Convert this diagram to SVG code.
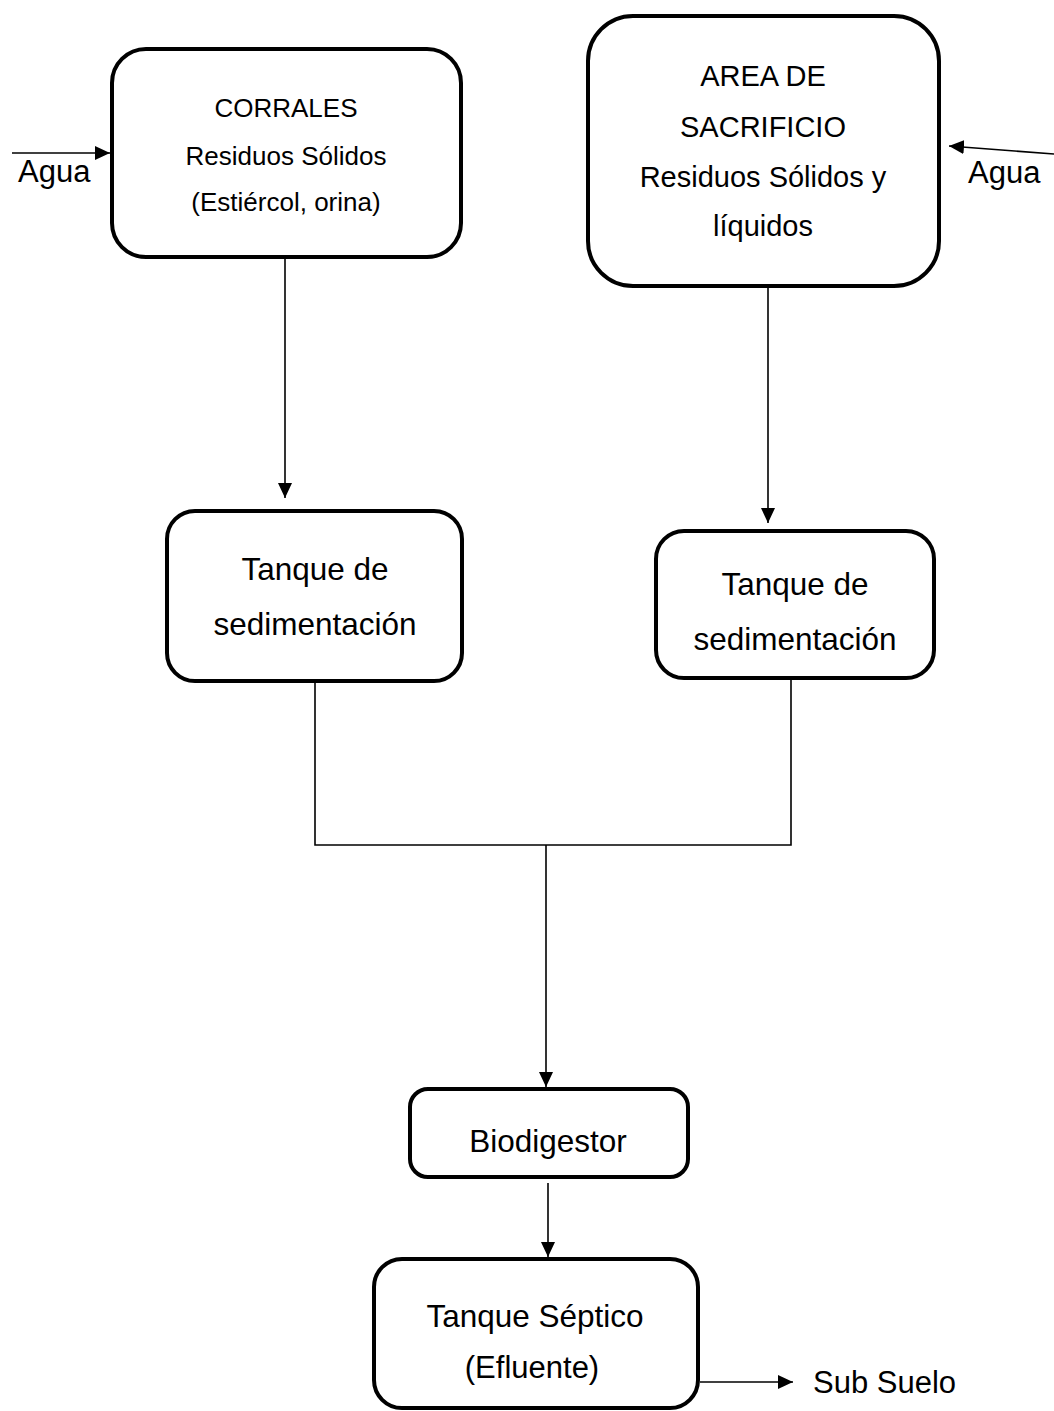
<svg xmlns="http://www.w3.org/2000/svg" width="1054" height="1411" viewBox="0 0 1054 1411">
<style>
.box{fill:#fff;stroke:#000;stroke-width:4}
.t{font-family:"Liberation Sans",Arial,sans-serif;fill:#000;text-anchor:middle}
.lbl{font-family:"Liberation Sans",Arial,sans-serif;fill:#000}
.c{fill:none;stroke:#000;stroke-width:1.6}
</style>
<defs>
<marker id="ah" markerUnits="userSpaceOnUse" markerWidth="16" markerHeight="14" refX="15" refY="7" orient="auto">
<path d="M0,0 L15,7 L0,14 z" fill="#000"/>
</marker>
</defs>
<rect width="1054" height="1411" fill="#fff"/>
<g id="connectors">
<line class="c" x1="12" y1="153" x2="110" y2="153" marker-end="url(#ah)"/>
<line class="c" x1="1054" y1="154" x2="949" y2="146" marker-end="url(#ah)"/>
<line class="c" x1="285" y1="259" x2="285" y2="498" marker-end="url(#ah)"/>
<line class="c" x1="768" y1="288" x2="768" y2="523" marker-end="url(#ah)"/>
<polyline class="c" points="315,683 315,845 791,845 791,680"/>
<line class="c" x1="546" y1="845" x2="546" y2="1087" marker-end="url(#ah)"/>
<line class="c" x1="548" y1="1183" x2="548" y2="1257" marker-end="url(#ah)"/>
<line class="c" x1="700" y1="1382" x2="793" y2="1382" marker-end="url(#ah)"/>
</g>
<g id="agua-left"><text class="lbl" x="18" y="182" font-size="31">Agua</text></g>
<g id="agua-right"><text class="lbl" x="968" y="183" font-size="31">Agua</text></g>
<g id="sub-suelo"><text class="lbl" x="813" y="1393" font-size="31">Sub Suelo</text></g>
<g id="corrales">
<rect class="box" x="112" y="49" width="349" height="208" rx="34" ry="34"/>
<text class="t" x="286" y="117" font-size="26">CORRALES</text>
<text class="t" x="286" y="165" font-size="26">Residuos Sólidos</text>
<text class="t" x="286" y="211" font-size="26">(Estiércol, orina)</text>
</g>
<g id="area-sacrificio">
<rect class="box" x="588" y="16" width="351" height="270" rx="45" ry="45"/>
<text class="t" x="763" y="86" font-size="29">AREA DE</text>
<text class="t" x="763" y="137" font-size="29">SACRIFICIO</text>
<text class="t" x="763" y="187" font-size="29">Residuos Sólidos y</text>
<text class="t" x="763" y="236" font-size="29">líquidos</text>
</g>
<g id="tanque-sed-1">
<rect class="box" x="167" y="511" width="295" height="170" rx="28" ry="28"/>
<text class="t" x="315" y="580" font-size="31.5">Tanque de</text>
<text class="t" x="315" y="635" font-size="31.5">sedimentación</text>
</g>
<g id="tanque-sed-2">
<rect class="box" x="656" y="531" width="278" height="147" rx="28" ry="28"/>
<text class="t" x="795" y="595" font-size="31.5">Tanque de</text>
<text class="t" x="795" y="650" font-size="31.5">sedimentación</text>
</g>
<g id="biodigestor">
<rect class="box" x="410" y="1089" width="278" height="88" rx="18" ry="18"/>
<text class="t" x="548" y="1152" font-size="31.5">Biodigestor</text>
</g>
<g id="tanque-septico">
<rect class="box" x="374" y="1259" width="324" height="149" rx="28" ry="28"/>
<text class="t" x="535" y="1327" font-size="31.5">Tanque Séptico</text>
<text class="t" x="532" y="1378" font-size="31">(Efluente)</text>
</g>
</svg>
